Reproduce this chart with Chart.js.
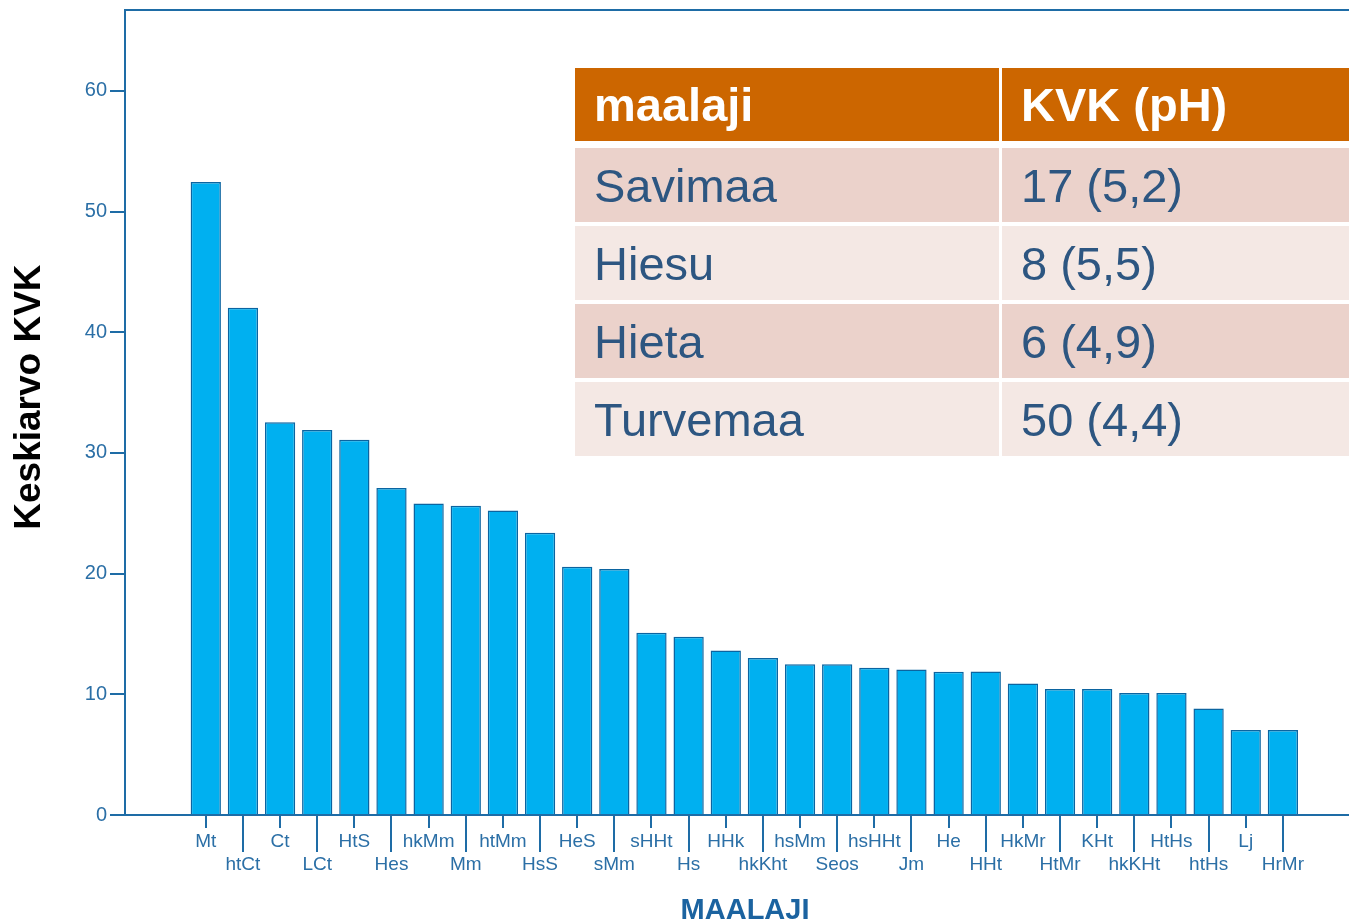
<!DOCTYPE html>
<html>
<head>
<meta charset="utf-8">
<script src="https://cdn.jsdelivr.net/npm/chart.js@4.4.0/dist/chart.umd.min.js"></script>
<style>
  html, body { margin: 0; padding: 0; background: #fff; overflow: hidden; }
  #wrap { position: relative; width: 1349px; height: 920px; overflow: hidden; }
  #chart { position: absolute; left: 0; top: 0; }
  #kvkTable {
    position: absolute; left: 575px; top: 68px; width: 790px;
    font-family: "Liberation Sans", Arial, sans-serif; font-size: 47px;
  }
  .row { display: flex; height: 74px; margin-bottom: 4px; }
  .row.head { height: 73px; margin-bottom: 7px; }
  .cell { display: flex; align-items: center; padding-left: 19px; box-sizing: border-box; }
  .c1 { width: 424px; margin-right: 3px; }
  .c2 { flex: 1; }
  .head .cell { background: #cc6600; color: #fff; font-weight: bold; }
  .odd .cell { background: #ebd2cb; color: #2d5681; }
  .even .cell { background: #f4e8e4; color: #2d5681; }
</style>
</head>
<body>
<div id="wrap">
  <canvas id="chart" width="1349" height="920"></canvas>
  <div id="kvkTable"></div>
</div>
<script>
// soil types (x categories) and mean KVK values
const soilTypes = ["Mt", "htCt", "Ct", "LCt", "HtS", "Hes", "hkMm", "Mm", "htMm", "HsS",
  "HeS", "sMm", "sHHt", "Hs", "HHk", "hkKht", "hsMm", "Seos", "hsHHt", "Jm",
  "He", "HHt", "HkMr", "HtMr", "KHt", "hkKHt", "HtHs", "htHs", "Lj", "HrMr"];
const kvkMeans = [52.45, 42.03, 32.54, 31.91, 31.1, 27.1, 25.82, 25.63, 25.22, 23.39,
  20.57, 20.38, 15.1, 14.77, 13.63, 13.0, 12.5, 12.5, 12.2, 12.05,
  11.86, 11.88, 10.89, 10.43, 10.43, 10.1, 10.1, 8.82, 7.05, 7.05];
const yTicks = [0, 10, 20, 30, 40, 50, 60];

// inset table
const tableHeader = ["maalaji", "KVK (pH)"];
const tableSoils = ["Savimaa", "Hiesu", "Hieta", "Turvemaa"];
const tableKvk = ["17 (5,2)", "8 (5,5)", "6 (4,9)", "50 (4,4)"];

const axisColor = "#1e6ca6";
const tickColor = "#2b6fa6";

// build the table overlay
const tbl = document.getElementById("kvkTable");
function addRow(cls, a, b) {
  const row = document.createElement("div");
  row.className = "row " + cls;
  row.innerHTML = `<div class="cell c1">${a}</div><div class="cell c2">${b}</div>`;
  tbl.appendChild(row);
}
addRow("head", tableHeader[0], tableHeader[1]);
tableSoils.forEach((s, i) => addRow(i % 2 ? "even" : "odd", s, tableKvk[i]));

// staggered tick marks on x axis + top frame line
const axisTicks = {
  id: "axisTicks",
  afterDraw(chart) {
    const { ctx, chartArea, scales } = chart;
    const x = scales.x;
    ctx.save();
    ctx.strokeStyle = axisColor;
    ctx.lineWidth = 2;
    ctx.beginPath();
    ctx.moveTo(chartArea.left - 1, chartArea.top);
    ctx.lineTo(chartArea.right, chartArea.top);
    ctx.stroke();
    soilTypes.forEach((_, i) => {
      const px = Math.round(x.getPixelForValue(i));
      ctx.beginPath();
      ctx.moveTo(px, chartArea.bottom);
      ctx.lineTo(px, chartArea.bottom + (i % 2 ? 37 : 13));
      ctx.stroke();
    });
    ctx.restore();
  }
};

new Chart(document.getElementById("chart").getContext("2d"), {
  type: "bar",
  data: {
    datasets: [{
      data: kvkMeans.map((v, i) => ({ x: i, y: v })),
      backgroundColor: "#00b0f0",
      borderColor: "#0b64a0",
      borderWidth: 1.5,
      categoryPercentage: 1,
      barPercentage: 0.815
    }]
  },
  options: {
    responsive: false,
    animation: false,
    devicePixelRatio: 1,
    layout: { padding: { top: 10, left: 0, right: 0, bottom: 0 } },
    plugins: { legend: { display: false }, tooltip: { enabled: false } },
    scales: {
      x: {
        type: "linear",
        min: -2.175,
        max: 30.78,
        offset: false,
        grid: { display: false, drawTicks: false, offset: false },
        border: { display: true, color: axisColor, width: 2 },
        afterBuildTicks(scale) {
          scale.ticks = soilTypes.map((_, i) => ({ value: i }));
        },
        afterFit(scale) {
          scale.height = 105;
          scale.paddingLeft = 0;
          scale.paddingRight = 0;
        },
        ticks: {
          autoSkip: false,
          maxRotation: 0,
          minRotation: 0,
          padding: 16,
          color: tickColor,
          font: { family: "Liberation Sans", size: 19, lineHeight: 1.18 },
          callback: (value) => {
            const i = Math.round(value);
            return i % 2 ? ["", soilTypes[i]] : [soilTypes[i], ""];
          }
        },
        title: {
          display: true,
          text: "  MAALAJI",
          color: "#1b63a0",
          font: { family: "Liberation Sans", size: 29, weight: "bold", lineHeight: 1.2 },
          padding: { top: 0, bottom: -8 }
        }
      },
      y: {
        min: 0,
        max: 66.7,
        afterBuildTicks(scale) {
          scale.ticks = yTicks.map(v => ({ value: v }));
        },
        afterFit(scale) {
          scale.width = 125;
          scale.paddingTop = 0;
          scale.paddingBottom = 0;
        },
        grid: { drawOnChartArea: false, drawTicks: true, tickLength: 15, color: axisColor, lineWidth: 2 },
        border: { display: true, color: axisColor, width: 2 },
        ticks: {
          padding: 3,
          color: tickColor,
          font: { family: "Liberation Sans", size: 20 }
        },
        title: {
          display: true,
          text: "   Keskiarvo KVK",
          color: "#000",
          font: { family: "Liberation Sans", size: 37, weight: "bold", lineHeight: 1.2 },
          padding: { top: 8, bottom: 0 }
        }
      }
    }
  },
  plugins: [axisTicks]
});
</script>
</body>
</html>
